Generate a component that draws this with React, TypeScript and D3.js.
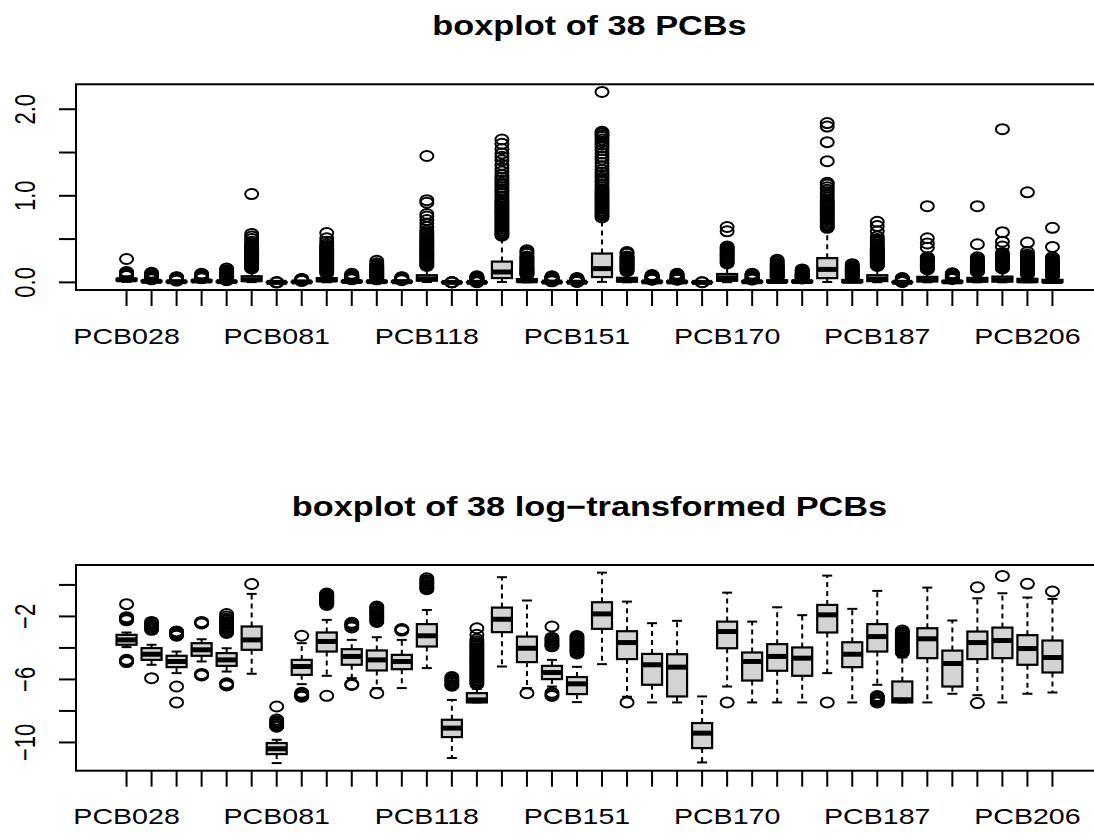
import * as d3 from 'd3';

// 38 congeners, in plotting order
const pcbNames = [
  'PCB028', 'PCB044', 'PCB049', 'PCB052', 'PCB066', 'PCB074', 'PCB081', 'PCB087',
  'PCB099', 'PCB101', 'PCB105', 'PCB110', 'PCB118', 'PCB126', 'PCB128', 'PCB138',
  'PCB146', 'PCB149', 'PCB151', 'PCB153', 'PCB156', 'PCB157', 'PCB167', 'PCB169',
  'PCB170', 'PCB172', 'PCB177', 'PCB178', 'PCB180', 'PCB183', 'PCB187', 'PCB189',
  'PCB194', 'PCB195', 'PCB196', 'PCB199', 'PCB206', 'PCB209',
];

// ---- raw concentrations (top panel) ----
const rawLower = [0.006, 0.003, 0.002, 0.004, 0.002, 0.003, 0.00001, 0.0008, 0.001, 0.002, 0.0012, 0.0015, 0.004, 0.00002, 0.0004, 0.005, 0.001, 0.0011, 0.0006, 0.006, 0.0009, 0.0006, 0.0006, 0.00001, 0.002, 0.0006, 0.0006, 0.0006, 0.005, 0.0006, 0.0018, 0.0006, 0.0006, 0.001, 0.0006, 0.0006, 0.0015, 0.001];
const rawQ1 = [0.022, 0.0086, 0.0054, 0.011, 0.0059, 0.016, 0.00002, 0.0033, 0.0146, 0.0063, 0.0044, 0.0047, 0.02, 0.00006, 0.0006, 0.05, 0.0074, 0.0025, 0.001, 0.061, 0.009, 0.0018, 0.0008, 0.00003, 0.018, 0.0023, 0.0043, 0.0031, 0.049, 0.0054, 0.0146, 0.0006, 0.0096, 0.0016, 0.009, 0.0096, 0.0063, 0.0038];
const rawMedian = [0.03, 0.012, 0.0077, 0.016, 0.0086, 0.03, 0.00003, 0.0056, 0.028, 0.0107, 0.0086, 0.0077, 0.04, 0.00011, 0.0007, 0.12, 0.018, 0.0038, 0.0019, 0.159, 0.026, 0.0063, 0.0054, 0.00008, 0.052, 0.0077, 0.0107, 0.0096, 0.15, 0.0123, 0.038, 0.0007, 0.033, 0.0067, 0.026, 0.029, 0.0176, 0.01];
const rawQ3 = [0.042, 0.018, 0.011, 0.025, 0.013, 0.071, 0.00004, 0.0086, 0.049, 0.017, 0.0156, 0.0118, 0.083, 0.00019, 0.001, 0.24, 0.038, 0.0059, 0.0029, 0.333, 0.053, 0.0125, 0.0123, 0.00016, 0.097, 0.0137, 0.023, 0.019, 0.28, 0.026, 0.083, 0.0022, 0.064, 0.0156, 0.052, 0.067, 0.041, 0.029];
const rawUpper = [0.07, 0.032, 0.019, 0.045, 0.023, 0.15, 0.00006, 0.016, 0.1, 0.032, 0.032, 0.022, 0.18, 0.0004, 0.0016, 0.5, 0.08, 0.01, 0.005, 0.72, 0.12, 0.028, 0.029, 0.0008, 0.21, 0.03, 0.05, 0.042, 0.6, 0.055, 0.18, 0.0045, 0.14, 0.036, 0.115, 0.15, 0.09, 0.065];
const rawOutliers = [
  [0.075, 0.08, 0.084, 0.088, 0.092, 0.096, 0.1, 0.105, 0.11, 0.115, 0.12, 0.27],
  [0.035, 0.04, 0.045, 0.05, 0.055, 0.06, 0.065, 0.07, 0.075, 0.08, 0.085, 0.09, 0.1, 0.11],
  [0.021, 0.025, 0.03, 0.035, 0.04, 0.045, 0.05, 0.055, 0.06],
  [0.048, 0.052, 0.056, 0.06, 0.065, 0.07, 0.075, 0.08, 0.085, 0.09, 0.1],
  [0.025, 0.03, 0.035, 0.04, 0.045, 0.05, 0.055, 0.06, 0.065, 0.07, 0.075, 0.08, 0.09, 0.1, 0.11, 0.12, 0.13, 0.14, 0.16],
  [0.16, 0.17, 0.18, 0.19, 0.2, 0.21, 0.22, 0.23, 0.24, 0.25, 0.26, 0.27, 0.28, 0.29, 0.3, 0.31, 0.32, 0.33, 0.34, 0.35, 0.36, 0.37, 0.38, 0.39, 0.4, 0.41, 0.42, 0.43, 0.45, 0.47, 0.5, 0.53, 0.56, 1.02],
  [0.0001, 0.0002, 0.0004],
  [0.018, 0.02, 0.024, 0.028, 0.032, 0.036, 0.04],
  [0.105, 0.12, 0.135, 0.15, 0.165, 0.18, 0.195, 0.21, 0.225, 0.24, 0.255, 0.27, 0.285, 0.3, 0.315, 0.33, 0.345, 0.36, 0.375, 0.39, 0.405, 0.42, 0.44, 0.47, 0.51, 0.57],
  [0.035, 0.04, 0.045, 0.05, 0.055, 0.06, 0.065, 0.07, 0.075, 0.08, 0.09, 0.1],
  [0.035, 0.045, 0.055, 0.065, 0.075, 0.085, 0.095, 0.105, 0.115, 0.125, 0.135, 0.145, 0.155, 0.165, 0.175, 0.19, 0.2, 0.22, 0.25],
  [0.025, 0.03, 0.035, 0.04, 0.045, 0.05, 0.055, 0.06],
  [0.19, 0.205, 0.22, 0.235, 0.25, 0.265, 0.28, 0.295, 0.31, 0.325, 0.34, 0.355, 0.37, 0.385, 0.4, 0.415, 0.43, 0.445, 0.46, 0.475, 0.49, 0.505, 0.52, 0.54, 0.56, 0.58, 0.6, 0.64, 0.68, 0.72, 0.76, 0.79, 0.92, 0.95, 1.46],
  [0.0006, 0.001, 0.0015, 0.002],
  [0.002, 0.004, 0.006, 0.008, 0.01, 0.013, 0.016, 0.02, 0.025, 0.03, 0.035, 0.04, 0.045, 0.05, 0.055, 0.06, 0.065, 0.07],
  [0.54, 0.56, 0.58, 0.6, 0.62, 0.64, 0.66, 0.68, 0.7, 0.72, 0.74, 0.76, 0.78, 0.8, 0.82, 0.84, 0.86, 0.88, 0.9, 0.92, 0.94, 0.96, 0.99, 1.02, 1.05, 1.07, 1.1, 1.13, 1.15, 1.18, 1.21, 1.24, 1.28, 1.32, 1.36, 1.41, 1.45, 1.49, 1.54, 1.6, 1.65],
  [0.085, 0.095, 0.105, 0.115, 0.125, 0.135, 0.145, 0.155, 0.165, 0.175, 0.185, 0.2, 0.215, 0.23, 0.245, 0.26, 0.275, 0.29, 0.3, 0.33, 0.35, 0.37],
  [0.012, 0.015, 0.02, 0.025, 0.03, 0.035, 0.04, 0.045, 0.05, 0.055, 0.06, 0.065, 0.07],
  [0.006, 0.008, 0.01, 0.013, 0.016, 0.02, 0.025, 0.03, 0.035, 0.04, 0.045, 0.05],
  [0.75, 0.77, 0.79, 0.81, 0.83, 0.85, 0.87, 0.89, 0.91, 0.93, 0.95, 0.97, 0.99, 1.01, 1.03, 1.05, 1.07, 1.1, 1.13, 1.16, 1.18, 1.21, 1.24, 1.27, 1.3, 1.34, 1.38, 1.42, 1.45, 1.49, 1.53, 1.56, 1.59, 1.62, 1.65, 1.68, 1.7, 1.72, 1.74, 2.2],
  [0.13, 0.14, 0.15, 0.16, 0.17, 0.18, 0.19, 0.2, 0.21, 0.22, 0.23, 0.24, 0.25, 0.26, 0.27, 0.28, 0.29, 0.3, 0.33, 0.35],
  [0.03, 0.035, 0.04, 0.045, 0.05, 0.055, 0.06, 0.065, 0.07, 0.075, 0.08, 0.085],
  [0.03, 0.035, 0.04, 0.045, 0.05, 0.055, 0.06, 0.07, 0.08, 0.09, 0.1],
  [0.001, 0.0015],
  [0.22, 0.235, 0.25, 0.265, 0.28, 0.295, 0.31, 0.325, 0.34, 0.355, 0.37, 0.385, 0.4, 0.415, 0.59, 0.64],
  [0.032, 0.036, 0.04, 0.045, 0.05, 0.055, 0.06, 0.065, 0.07, 0.075, 0.08, 0.085, 0.09, 0.095, 0.1],
  [0.055, 0.065, 0.075, 0.085, 0.095, 0.105, 0.115, 0.125, 0.135, 0.145, 0.155, 0.165, 0.175, 0.185, 0.195, 0.205, 0.22, 0.24, 0.26],
  [0.045, 0.05, 0.055, 0.06, 0.065, 0.07, 0.075, 0.08, 0.085, 0.09, 0.095, 0.1, 0.11, 0.12, 0.13, 0.14, 0.15],
  [0.63, 0.65, 0.67, 0.69, 0.71, 0.73, 0.75, 0.77, 0.79, 0.81, 0.83, 0.85, 0.87, 0.89, 0.91, 0.93, 0.95, 0.98, 1.01, 1.04, 1.07, 1.1, 1.13, 1.15, 1.4, 1.62, 1.8, 1.84],
  [0.06, 0.07, 0.08, 0.09, 0.1, 0.11, 0.12, 0.13, 0.14, 0.15, 0.16, 0.17, 0.18, 0.19, 0.21],
  [0.19, 0.2, 0.21, 0.22, 0.23, 0.24, 0.25, 0.26, 0.27, 0.28, 0.29, 0.3, 0.31, 0.32, 0.33, 0.34, 0.35, 0.36, 0.37, 0.38, 0.39, 0.4, 0.42, 0.44, 0.46, 0.48, 0.5, 0.53, 0.59, 0.65, 0.7],
  [0.005, 0.007, 0.01, 0.013, 0.016, 0.02, 0.025, 0.03, 0.035, 0.04, 0.045, 0.05],
  [0.15, 0.16, 0.17, 0.18, 0.19, 0.2, 0.21, 0.22, 0.23, 0.24, 0.25, 0.26, 0.27, 0.28, 0.29, 0.4, 0.45, 0.51, 0.88],
  [0.04, 0.045, 0.05, 0.055, 0.06, 0.065, 0.07, 0.075, 0.08, 0.085, 0.09, 0.095, 0.1, 0.105],
  [0.12, 0.13, 0.14, 0.15, 0.16, 0.17, 0.18, 0.19, 0.2, 0.21, 0.22, 0.23, 0.24, 0.25, 0.26, 0.27, 0.29, 0.44, 0.88],
  [0.16, 0.17, 0.18, 0.19, 0.2, 0.21, 0.22, 0.23, 0.24, 0.25, 0.26, 0.27, 0.28, 0.29, 0.3, 0.32, 0.34, 0.415, 0.47, 0.58, 1.77],
  [0.095, 0.105, 0.115, 0.125, 0.135, 0.145, 0.155, 0.165, 0.175, 0.185, 0.195, 0.21, 0.22, 0.23, 0.24, 0.25, 0.26, 0.27, 0.28, 0.29, 0.3, 0.32, 0.35, 0.46, 1.04],
  [0.07, 0.08, 0.09, 0.1, 0.11, 0.12, 0.13, 0.14, 0.15, 0.16, 0.17, 0.18, 0.19, 0.2, 0.21, 0.22, 0.23, 0.24, 0.25, 0.27, 0.29, 0.41, 0.63],
];

// ---- log-transformed concentrations (bottom panel) ----
const logLower = [-3.95, -5.07, -5.6, -4.86, -5.5, -5.64, -11.31, -6.3, -5.77, -5.92, -6.55, -6.55, -5.28, -10.99, -7.46, -5.18, -6.55, -6.45, -7.44, -5.03, -7.1, -7.46, -7.46, -11.27, -6.45, -7.46, -7.46, -7.46, -5.6, -7.46, -6.34, -7.46, -7.46, -6.91, -7.0, -7.46, -6.91, -6.83];
const logQ1 = [-3.8, -4.76, -5.22, -4.5, -5.14, -4.12, -10.74, -5.71, -4.23, -5.07, -5.43, -5.35, -3.91, -9.66, -7.46, -3.0, -4.9, -5.98, -6.93, -2.79, -4.71, -6.34, -7.08, -10.36, -4.02, -6.07, -5.45, -5.77, -3.02, -5.22, -4.23, -7.46, -4.65, -6.45, -4.71, -4.65, -5.07, -5.56];
const logMedian = [-3.49, -4.4, -4.86, -4.12, -4.76, -3.49, -10.4, -5.18, -3.59, -4.54, -4.76, -4.86, -3.23, -9.09, -7.3, -2.18, -4.02, -5.56, -6.28, -1.84, -3.66, -5.07, -5.22, -9.41, -2.96, -4.86, -4.54, -4.65, -1.9, -4.4, -3.28, -7.29, -3.42, -4.99, -3.66, -3.53, -4.04, -4.61];
const logQ3 = [-3.17, -4.01, -4.5, -3.7, -4.33, -2.64, -10.04, -4.76, -3.02, -4.08, -4.16, -4.44, -2.49, -8.56, -6.87, -1.44, -3.28, -5.14, -5.85, -1.1, -2.94, -4.38, -4.4, -8.77, -2.33, -4.29, -3.76, -3.97, -1.27, -3.64, -2.49, -6.13, -2.75, -4.17, -2.96, -2.71, -3.19, -3.53];
const logUpper = [-3.02, -3.8, -4.23, -3.45, -4.02, -0.57, -9.83, -3.7, -2.22, -3.49, -3.32, -3.49, -1.59, -7.3, -6.6, 0.49, -0.99, -4.76, -5.2, 0.78, -1.06, -2.43, -2.28, -7.08, -0.49, -2.33, -1.42, -1.92, 0.59, -1.52, -0.38, -4.6, -0.17, -2.26, -0.85, -0.53, -0.8, -0.89];
const logOutliers = [
  [-1.22, -2.05, -2.1, -2.15, -2.2, -2.25, -4.75, -4.8, -4.85, -4.9],
  [-2.35, -2.45, -2.55, -2.65, -2.75, -2.85, -5.92],
  [-2.95, -3.0, -3.08, -3.15, -3.23, -6.45, -7.46],
  [-2.35, -2.4, -2.45, -5.65, -5.7, -5.75],
  [-1.85, -2.0, -2.15, -2.25, -2.35, -2.45, -2.55, -2.65, -2.75, -2.85, -2.95, -3.05, -6.25, -6.3, -6.38],
  [0.06],
  [-7.72, -8.55, -8.65, -8.75, -8.85, -8.95, -9.0],
  [-3.23, -6.85, -6.9, -6.95, -7.0, -7.05, -7.1],
  [-0.55, -0.6, -0.65, -0.7, -0.75, -0.8, -0.85, -0.9, -0.95, -1.0, -1.05, -1.1, -1.15, -1.2, -1.27, -7.04],
  [-2.4, -2.5, -2.6, -2.7, -6.3, -6.35],
  [-1.37, -1.45, -1.55, -1.65, -1.75, -1.85, -1.95, -2.05, -2.15, -2.25, -2.35, -6.87],
  [-2.8, -2.85, -2.9],
  [0.42, 0.3, 0.2, 0.1, 0.0, -0.1, -0.2, -0.27],
  [-5.85, -5.95, -6.05, -6.15, -6.25, -6.35, -6.4],
  [-2.75, -3.17, -3.45, -3.6, -3.7, -3.8, -3.9, -4.0, -4.1, -4.2, -4.3, -4.4, -4.5, -4.6, -4.7, -4.8, -4.9, -5.0, -5.1, -5.2, -5.3, -5.4, -5.5, -5.6, -5.7, -5.8, -5.9, -6.0, -6.1, -6.2, -6.3],
  [],
  [-6.87],
  [-2.64, -3.35, -3.45, -3.55, -3.65, -3.75, -3.85, -3.9, -6.85, -6.95, -7.05],
  [-3.25, -3.35, -3.45, -3.55, -3.65, -3.75, -3.85, -3.95, -4.05, -4.15, -4.25, -4.35],
  [],
  [-7.46],
  [],
  [],
  [],
  [-7.46],
  [],
  [],
  [],
  [-7.46],
  [],
  [-7.05, -7.12, -7.2, -7.28, -7.36, -7.46],
  [-2.9, -3.0, -3.1, -3.2, -3.3, -3.4, -3.5, -3.6, -3.7, -3.8, -3.9, -4.0, -4.1, -4.2, -4.3],
  [],
  [],
  [-0.15, -7.5],
  [0.57],
  [0.07],
  [-0.42],
];

const rawTicks = [0, 0.5, 1, 1.5, 2];
const rawTickLabels = [0, 1, 2];
const logTicks = [-10, -8, -6, -4, -2, 0];
const logTickLabels = [-10, -6, -2];

const font = '"Liberation Sans", Arial, Helvetica, sans-serif';
const stretch = 1.3; // the reference is stretched horizontally

type PanelProps = {
  title: string;
  top: number;
  bottom: number;
  lower: number[];
  q1: number[];
  median: number[];
  q3: number[];
  upper: number[];
  outliers: number[][];
  ticks: number[];
  tickLabels: number[];
  fmt: (v: number) => string;
};

function BoxPanel(p: PanelProps) {
  const n = pcbNames.length;
  // R style: xlim (0.5, n + 0.5) extended by 4%
  const x = d3
    .scaleLinear()
    .domain([0.5 - 0.04 * n, n + 0.5 + 0.04 * n])
    .range([76, 1103]);

  const all = [...p.lower, ...p.upper, ...p.outliers.flat()];
  const [lo, hi] = d3.extent(all) as [number, number];
  const pad = (hi - lo) * 0.04;
  const y = d3.scaleLinear().domain([lo - pad, hi + pad]).range([p.bottom, p.top]);

  const halfBox = x(0.4) - x(0);
  const halfStaple = x(0.2) - x(0);
  const left = x.range()[0];
  const right = x.range()[1];

  return (
    <g>
      <g transform={`translate(${(left + right) / 2}, ${p.top - 49.5}) scale(1.27, 1)`}>
        <text textAnchor="middle" fontFamily={font} fontWeight="bold" fontSize={27}>
          {p.title}
        </text>
      </g>

      {pcbNames.map((name, i) => {
        const cx = x(i + 1);
        return (
          <g key={name}>
            {/* whiskers */}
            <line x1={cx} x2={cx} y1={y(p.q3[i])} y2={y(p.upper[i])} stroke="#000" strokeWidth={2} strokeDasharray="5,4" />
            <line x1={cx} x2={cx} y1={y(p.q1[i])} y2={y(p.lower[i])} stroke="#000" strokeWidth={2} strokeDasharray="5,4" />
            {/* staples */}
            <line x1={cx - halfStaple} x2={cx + halfStaple} y1={y(p.upper[i])} y2={y(p.upper[i])} stroke="#000" strokeWidth={2} />
            <line x1={cx - halfStaple} x2={cx + halfStaple} y1={y(p.lower[i])} y2={y(p.lower[i])} stroke="#000" strokeWidth={2} />
            {/* box */}
            <rect
              x={cx - halfBox}
              y={y(p.q3[i])}
              width={halfBox * 2}
              height={Math.max(0, y(p.q1[i]) - y(p.q3[i]))}
              fill="#d3d3d3"
              stroke="#000"
              strokeWidth={2.2}
            />
            <line x1={cx - halfBox} x2={cx + halfBox} y1={y(p.median[i])} y2={y(p.median[i])} stroke="#000" strokeWidth={5} />
            {/* outliers */}
            {p.outliers[i].map((v, j) => (
              <ellipse key={j} cx={cx} cy={y(v)} rx={6.5} ry={5} fill="none" stroke="#000" strokeWidth={2} />
            ))}
          </g>
        );
      })}

      {/* frame */}
      <rect x={left} y={p.top} width={right - left} height={p.bottom - p.top} fill="none" stroke="#000" strokeWidth={2} />

      {/* x axis ticks and labels */}
      {pcbNames.map((name, i) => (
        <g key={`xt-${name}`}>
          <line x1={x(i + 1)} x2={x(i + 1)} y1={p.bottom} y2={p.bottom + 16} stroke="#000" strokeWidth={2} />
          {i % 6 === 0 && (
            <g transform={`translate(${x(i + 1)}, ${p.bottom + 53.5}) scale(${stretch}, 1)`}>
              <text textAnchor="middle" fontFamily={font} fontSize={22}>
                {name}
              </text>
            </g>
          )}
        </g>
      ))}

      {/* y axis */}
      {p.ticks.map((t) => (
        <line key={`yt-${t}`} x1={left - 17} x2={left} y1={y(t)} y2={y(t)} stroke="#000" strokeWidth={2} />
      ))}
      {p.tickLabels.map((t) => (
        <g key={`yl-${t}`} transform={`translate(35, ${y(t)}) scale(${stretch}, 1) rotate(-90)`}>
          <text textAnchor="middle" fontFamily={font} fontSize={22}>
            {p.fmt(t)}
          </text>
        </g>
      ))}
    </g>
  );
}

export default function App() {
  return (
    <svg
      width={1094}
      height={839}
      style={{ position: 'absolute', left: 0, top: 0, background: '#fff' }}
    >
      <rect x={0} y={0} width={1094} height={839} fill="#fff" />
      <BoxPanel
        title="boxplot of 38 PCBs"
        top={84.3}
        bottom={290}
        lower={rawLower}
        q1={rawQ1}
        median={rawMedian}
        q3={rawQ3}
        upper={rawUpper}
        outliers={rawOutliers}
        ticks={rawTicks}
        tickLabels={rawTickLabels}
        fmt={d3.format('.1f')}
      />
      <BoxPanel
        title="boxplot of 38 log−transformed PCBs"
        top={565}
        bottom={770.7}
        lower={logLower}
        q1={logQ1}
        median={logMedian}
        q3={logQ3}
        upper={logUpper}
        outliers={logOutliers}
        ticks={logTicks}
        tickLabels={logTickLabels}
        fmt={d3.format('d')}
      />
    </svg>
  );
}
